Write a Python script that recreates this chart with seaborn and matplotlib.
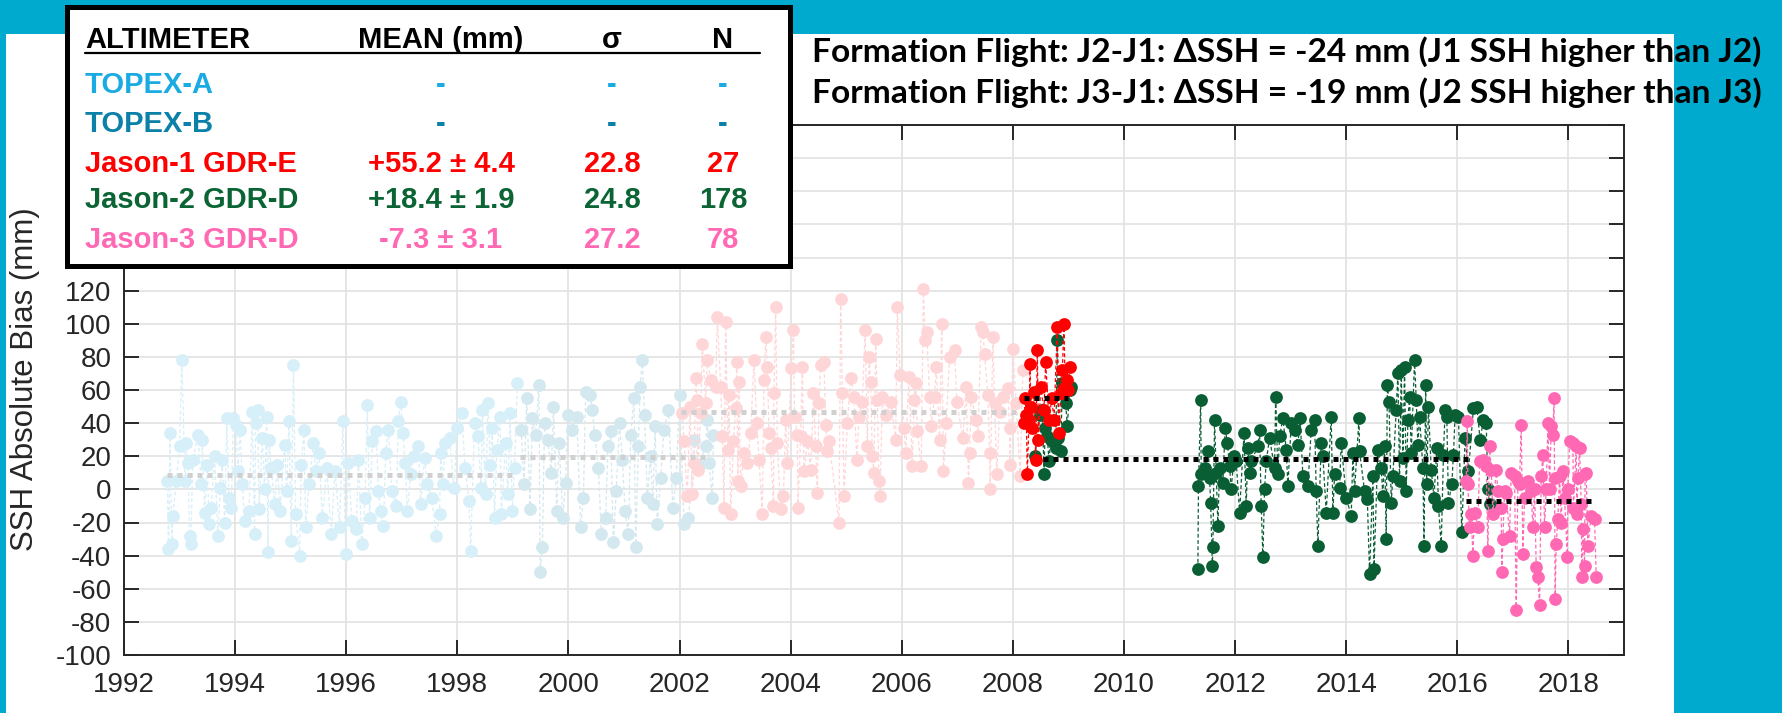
"""
SSH absolute bias from altimeter calibration: TOPEX, Jason-1/2/3 time series.
"""

import numpy as np
import matplotlib

matplotlib.use("Agg")
import matplotlib.pyplot as plt
import seaborn as sns
from matplotlib.patches import Rectangle
from matplotlib.lines import Line2D

sns.set_style("ticks")

# ── Data (decimal year, bias in mm) ─────────────────
topex_a_year = [1992.78, 1992.80, 1992.83, 1992.86, 1992.88, 1992.94, 1993.00, 1993.04, 1993.10, 1993.12,
                1993.15, 1993.18, 1993.20, 1993.24, 1993.33, 1993.39, 1993.41, 1993.45, 1993.50, 1993.53,
                1993.57, 1993.63, 1993.69, 1993.73, 1993.77, 1993.81, 1993.85, 1993.89, 1993.93, 1993.97,
                1994.01, 1994.05, 1994.09, 1994.13, 1994.17, 1994.25, 1994.31, 1994.35, 1994.37, 1994.41,
                1994.43, 1994.49, 1994.53, 1994.57, 1994.59, 1994.61, 1994.65, 1994.71, 1994.76, 1994.81,
                1994.89, 1994.93, 1994.97, 1995.01, 1995.05, 1995.09, 1995.16, 1995.19, 1995.24, 1995.27,
                1995.33, 1995.41, 1995.45, 1995.51, 1995.57, 1995.65, 1995.73, 1995.80, 1995.88, 1995.94,
                1995.99, 1996.04, 1996.10, 1996.18, 1996.22, 1996.28, 1996.34, 1996.38, 1996.42, 1996.47,
                1996.54, 1996.58, 1996.62, 1996.67, 1996.71, 1996.76, 1996.82, 1996.90, 1996.94, 1996.98,
                1997.02, 1997.06, 1997.10, 1997.16, 1997.22, 1997.30, 1997.34, 1997.41, 1997.46, 1997.54,
                1997.62, 1997.68, 1997.70, 1997.74, 1997.78, 1997.86, 1997.94, 1998.00, 1998.08, 1998.14,
                1998.21, 1998.24, 1998.31, 1998.37, 1998.43, 1998.45, 1998.51, 1998.55, 1998.59, 1998.63,
                1998.67, 1998.71, 1998.77, 1998.79, 1998.87, 1998.91, 1998.95, 1998.99, 1999.03, 1999.08]
topex_a_bias = [5, -36, 34, -33, -16, 5, 26, 78, 5, 28,
                16, -28, -33, 18, 33, 3, 30, -14, 15, -21,
                -11, 20, -28, 1, 18, -20, 43, -5, -11, 43,
                39, 11, 36, 3, -19, -13, 47, -27, 40, 48,
                -12, 31, 0, 44, -38, 30, 13, -9, 15, -13,
                27, -1, 41, -31, 75, -15, -40, 15, 36, -23,
                3, 28, 11, 22, -17, 13, -27, 11, -23, 41,
                -39, 16, -19, -24, 18, -33, -5, 51, -17, 29,
                35, -1, -13, -22, 22, 36, -1, -10, 41, 53,
                34, 16, -13, 9, 20, 26, -9, 19, 3, -5,
                -28, -15, 22, 3, 28, 31, 1, 37, 46, 13,
                -7, -37, 40, 32, 1, 48, -3, 52, 15, 37,
                -17, 24, 44, -15, 28, -3, 46, -13, 13, 64]

topex_b_year = [1999.15, 1999.20, 1999.25, 1999.31, 1999.35, 1999.41, 1999.47, 1999.49, 1999.53, 1999.57,
                1999.63, 1999.69, 1999.73, 1999.79, 1999.83, 1999.90, 1999.95, 1999.99, 2000.07, 2000.15,
                2000.22, 2000.27, 2000.31, 2000.39, 2000.43, 2000.47, 2000.54, 2000.59, 2000.67, 2000.71,
                2000.76, 2000.81, 2000.86, 2000.92, 2000.97, 2001.02, 2001.08, 2001.12, 2001.18, 2001.21,
                2001.26, 2001.29, 2001.33, 2001.37, 2001.42, 2001.48, 2001.52, 2001.56, 2001.60, 2001.66,
                2001.72, 2001.80, 2001.88, 2001.94, 2002.00, 2002.08, 2002.16, 2002.20, 2002.26, 2002.35,
                2002.47, 2002.50, 2002.53, 2002.59, 2002.61]
topex_b_bias = [36, 3, 55, -12, 43, 33, 63, -50, -35, 40,
                30, 10, 50, -13, 28, -17, 4, 45, 36, 44,
                -23, -5, 59, 57, 48, 33, 13, -27, -17, 26,
                35, -32, -1, 40, 18, -13, -27, 33, 55, -35,
                26, 62, 78, 45, -5, 20, -9, 38, -21, 7,
                36, 48, -11, 7, 57, -21, -17, -3, 30, 15,
                26, 42, 16, -5, 33]

jason1_old_year = [2002.05, 2002.08, 2002.14, 2002.19, 2002.23, 2002.26, 2002.29, 2002.32, 2002.33, 2002.38,
                   2002.41, 2002.47, 2002.50, 2002.56, 2002.65, 2002.68, 2002.74, 2002.77, 2002.80, 2002.83,
                   2002.87, 2002.89, 2002.92, 2002.97, 2003.01, 2003.03, 2003.05, 2003.07, 2003.10, 2003.16,
                   2003.22, 2003.28, 2003.34, 2003.39, 2003.43, 2003.49, 2003.52, 2003.55, 2003.58, 2003.61,
                   2003.64, 2003.69, 2003.70, 2003.73, 2003.76, 2003.82, 2003.87, 2003.91, 2003.94, 2004.01,
                   2004.05, 2004.07, 2004.12, 2004.13, 2004.18, 2004.21, 2004.24, 2004.30, 2004.36, 2004.41,
                   2004.45, 2004.48, 2004.51, 2004.54, 2004.60, 2004.63, 2004.66, 2004.69, 2004.87, 2004.90,
                   2004.93, 2004.96, 2005.02, 2005.08, 2005.14, 2005.19, 2005.23, 2005.29, 2005.34, 2005.38,
                   2005.41, 2005.44, 2005.47, 2005.50, 2005.53, 2005.56, 2005.59, 2005.61, 2005.65, 2005.71,
                   2005.80, 2005.89, 2005.92, 2005.97, 2006.04, 2006.07, 2006.13, 2006.19, 2006.22, 2006.25,
                   2006.28, 2006.35, 2006.39, 2006.42, 2006.45, 2006.50, 2006.53, 2006.59, 2006.62, 2006.68,
                   2006.72, 2006.75, 2006.80, 2006.86, 2006.95, 2006.99, 2007.10, 2007.16, 2007.20, 2007.22,
                   2007.25, 2007.34, 2007.37, 2007.43, 2007.46, 2007.49, 2007.55, 2007.58, 2007.59, 2007.64,
                   2007.67, 2007.71, 2007.76, 2007.82, 2007.91, 2007.94, 2007.95, 2008.00, 2008.06, 2008.13,
                   2008.18]
jason1_old_bias = [46, 29, -4, 50, -3, 16, 67, 54, 12, 46,
                   88, 52, 78, 66, 62, 104, 62, 32, -11, 101,
                   24, 57, -15, 29, 49, 77, 5, 65, 2, 22,
                   16, 34, 78, 40, 18, -15, 66, 92, 74, 34,
                   25, -10, 58, 110, 28, -12, -4, 42, 16, 73,
                   96, 44, 33, -11, 32, 74, 11, 29, 12, 58,
                   26, -2, 52, 75, 77, 39, 23, 29, -20, 115,
                   58, -4, 40, 67, 56, 18, 44, 53, 96, 26,
                   80, 65, 20, 10, 91, 54, 5, -4, 56, 45,
                   53, 30, 110, 69, 37, 22, 68, 14, 54, 64,
                   35, 14, 121, 90, 95, 56, 38, 56, 74, 30,
                   100, 11, 40, 80, 84, 53, 31, 62, 4, 22,
                   56, 42, 32, 98, 95, 82, 57, 22, 0, 92,
                   52, 9, 47, 56, 61, 37, 15, 85, 52, 8,
                   72]

jason1_year = [2008.20, 2008.22, 2008.24, 2008.26, 2008.29, 2008.31, 2008.32, 2008.35, 2008.38, 2008.41,
               2008.44, 2008.46, 2008.50, 2008.56, 2008.59, 2008.65, 2008.70, 2008.74, 2008.80, 2008.83,
               2008.86, 2008.89, 2008.92, 2008.94, 2008.98, 2009.00, 2009.02]
jason1_bias = [40, 55, 45, 9, 42, 76, 50, 37, 59, 18,
               84, 30, 62, 48, 77, 42, 55, 42, 98, 34,
               58, 72, 100, 62, 66, 60, 74]

jason2_ff_year = [2008.40, 2008.48, 2008.53, 2008.56, 2008.58, 2008.62, 2008.65, 2008.68, 2008.74, 2008.77,
                  2008.80, 2008.82, 2008.86, 2008.89, 2008.95, 2008.98, 2009.02, 2009.05]
jason2_ff_bias = [20, 45, 48, 9, 37, 32, 17, 30, 28, 25,
                  90, 31, 23, 64, 52, 38, 60, 62]

jason2_year = [2011.33, 2011.34, 2011.38, 2011.39, 2011.45, 2011.52, 2011.54, 2011.56, 2011.59, 2011.60,
               2011.63, 2011.66, 2011.69, 2011.72, 2011.78, 2011.82, 2011.86, 2011.90, 2011.93, 2011.98,
               2012.02, 2012.08, 2012.16, 2012.20, 2012.23, 2012.26, 2012.29, 2012.41, 2012.44, 2012.47,
               2012.50, 2012.53, 2012.56, 2012.62, 2012.71, 2012.73, 2012.77, 2012.80, 2012.86, 2012.92,
               2012.95, 2013.01, 2013.07, 2013.13, 2013.17, 2013.22, 2013.31, 2013.37, 2013.43, 2013.46,
               2013.49, 2013.55, 2013.58, 2013.64, 2013.73, 2013.76, 2013.79, 2013.88, 2013.91, 2014.00,
               2014.09, 2014.12, 2014.15, 2014.23, 2014.24, 2014.33, 2014.38, 2014.42, 2014.48, 2014.50,
               2014.57, 2014.63, 2014.66, 2014.69, 2014.72, 2014.74, 2014.77, 2014.81, 2014.84, 2014.90,
               2014.93, 2014.96, 2014.99, 2015.02, 2015.05, 2015.08, 2015.11, 2015.14, 2015.17, 2015.23,
               2015.26, 2015.29, 2015.32, 2015.38, 2015.40, 2015.43, 2015.45, 2015.48, 2015.53, 2015.58,
               2015.63, 2015.66, 2015.71, 2015.75, 2015.78, 2015.81, 2015.84, 2015.90, 2015.93, 2015.96,
               2016.02, 2016.08, 2016.14, 2016.20, 2016.29, 2016.35, 2016.41, 2016.47, 2016.52, 2016.55,
               2016.58]
jason2_bias = [-48, 2, 54, 9, 13, 23, 7, -8, -46, -35,
               42, 10, -22, 13, 4, 37, 28, 14, 0, 20,
               17, -14, 34, -10, 25, 10, 17, 26, 36, -10,
               -41, 0, 17, 31, 13, 56, 9, 32, 43, 24,
               2, 40, 36, 27, 43, 8, 2, 36, 42, -1,
               -34, 28, 20, -14, 44, -14, 9, 1, 28, -5,
               -16, 22, -1, 43, 23, -1, -6, -51, 8, -48,
               24, 13, -4, 26, -30, 63, 53, -8, 8, 48,
               70, 5, 72, 19, 74, -1, 42, 56, 22, 78,
               54, 27, 44, 13, -34, 63, 3, 50, 12, -5,
               25, -10, -34, 21, 48, 44, -8, 3, 21, 45,
               44, -26, 31, 11, 49, 50, 30, 42, 40, 0,
               -9]

jason3_year = [2016.16, 2016.18, 2016.19, 2016.22, 2016.25, 2016.28, 2016.31, 2016.37, 2016.40, 2016.46,
               2016.52, 2016.55, 2016.58, 2016.61, 2016.64, 2016.70, 2016.73, 2016.79, 2016.80, 2016.82,
               2016.85, 2016.88, 2016.94, 2016.97, 2017.03, 2017.06, 2017.09, 2017.12, 2017.15, 2017.18,
               2017.21, 2017.27, 2017.33, 2017.36, 2017.39, 2017.42, 2017.45, 2017.48, 2017.51, 2017.54,
               2017.57, 2017.60, 2017.63, 2017.66, 2017.69, 2017.72, 2017.74, 2017.75, 2017.76, 2017.78,
               2017.81, 2017.84, 2017.87, 2017.90, 2017.93, 2017.98, 2017.99, 2018.02, 2018.08, 2018.09,
               2018.14, 2018.15, 2018.17, 2018.20, 2018.23, 2018.24, 2018.26, 2018.29, 2018.30, 2018.32,
               2018.35, 2018.41, 2018.47, 2018.50]
jason3_bias = [5, 41, 3, -23, -15, -40, -14, -23, 17, 18,
               14, -37, 26, 12, -15, 12, -1, -11, -50, -30,
               -1, -2, -28, 10, 8, -73, 5, 3, 39, -39,
               -5, 5, -1, -23, 0, -47, -53, -70, 8, 21,
               -23, 0, 40, 0, 38, 33, 55, 7, -66, -33,
               -18, 8, -20, 11, -5, -41, 0, 29, 28, -11,
               26, -15, 7, 25, -9, -53, -24, -46, 9, 10,
               -34, -16, -18, -53]

# dotted mean lines: start year, end year, mean (mm)
mean_start = [1992.78, 1999.12, 2002.02, 2008.20, 2008.55, 2016.15]
mean_end = [1999.07, 2002.55, 2008.15, 2009.00, 2016.26, 2018.47]
mean_value = [8.5, 19.3, 46.6, 55.2, 18.4, -7.3]
mean_color = ["#D0D0D0", "#D0D0D0", "#D0D0D0", "black", "black", "black"]

# summary table
table_names = ["TOPEX-A", "TOPEX-B", "Jason-1 GDR-E", "Jason-2 GDR-D", "Jason-3 GDR-D"]
table_mean = ["-", "-", "+55.2 ± 4.4", "+18.4 ± 1.9", "-7.3 ± 3.1"]
table_sigma = ["-", "-", "22.8", "24.8", "27.2"]
table_n = ["-", "-", "27", "178", "78"]
table_colors = ["#1AABE2", "#0B80A8", "#FF0000", "#0A6433", "#FF69B4"]

title_lines = ["Formation Flight: J2-J1: ΔSSH = -24 mm (J1 SSH higher than J2)",
               "Formation Flight: J3-J1: ΔSSH = -19 mm (J2 SSH higher than J3)"]

# ── Figure ──────────────────────────────────────────
W, H = 1783, 713
TEAL = "#00A9CE"
fig = plt.figure(figsize=(W / 100, H / 100), dpi=100, facecolor=TEAL)


def fx(px):
    return px / W


def fy(py):
    return 1 - py / H


fig.add_artist(Rectangle((fx(6), 0), fx(1674) - fx(6), fy(34), transform=fig.transFigure,
                         facecolor="white", edgecolor="none", zorder=-10))

ax = fig.add_axes([fx(124), fy(655), fx(1624) - fx(124), fy(125) - fy(655)])
ax.set_facecolor("white")


def draw_series(x, y, color, zorder):
    sns.lineplot(x=x, y=y, ax=ax, estimator=None, sort=False, color=color,
                 linestyle=(0, (3, 2)), lw=0.9, marker="o", markersize=9.2,
                 markeredgewidth=0, markeredgecolor=color, zorder=zorder)


draw_series(topex_a_year, topex_a_bias, "#D7EFF8", 2)
draw_series(topex_b_year, topex_b_bias, "#D3E8EF", 2)
draw_series(jason1_old_year, jason1_old_bias, "#FFD6D8", 2)
draw_series(jason2_ff_year, jason2_ff_bias, "#0A5E34", 3)
draw_series(jason2_year, jason2_bias, "#0A5E34", 3)
draw_series(jason1_year, jason1_bias, "#FF0000", 4)
draw_series(jason3_year, jason3_bias, "#FF69B4", 5)

for x0, x1, m, c in zip(mean_start, mean_end, mean_value, mean_color):
    ax.plot([x0, x1], [m, m], color=c, lw=3.6, linestyle=(0, (1, 1)), zorder=6)

ax.set_xlim(1992, 2019)
ax.set_ylim(-100, 220)
ax.set_xticks(np.arange(1992, 2019, 2))
yt = np.arange(-100, 221, 20)
ax.set_yticks(yt)
# labels above 120 sit under the table box
ax.set_yticklabels([str(v) if v <= 120 else "" for v in yt])
ax.grid(True, color="#E2E2E2", lw=1.2)
ax.set_axisbelow(True)
for s in ax.spines.values():
    s.set_color("#262626")
    s.set_linewidth(1.4)
ax.tick_params(direction="in", length=10.5, width=1.4, top=True, right=True,
               labelsize=20, colors="#262626")
ax.tick_params(axis="x", pad=12)
ax.tick_params(axis="y", pad=9)
for lab in ax.get_xticklabels() + ax.get_yticklabels():
    lab.set_family("Liberation Sans")
ax.set_xlabel("")
ax.set_ylabel("SSH Absolute Bias (mm)", fontsize=22.5, family="Liberation Sans", color="#262626")
ax.yaxis.set_label_coords(-0.056, 0.52)

# ── Summary table box ───────────────────────────────
box_font, box_size = "Liberation Sans", 21

fig.add_artist(Rectangle((fx(67), fy(266)), fx(790) - fx(67), fy(7) - fy(266),
                         transform=fig.transFigure, facecolor="white", edgecolor="black",
                         lw=3.6, zorder=10))

col_x = [85, 441, 612, 723]
header = ["ALTIMETER", "MEAN (mm)", "σ", "N"]
row_y = [93, 132, 172, 208, 248]
for i, h in enumerate(header):
    fig.text(fx(col_x[i]), fy(48), h, ha="left" if i == 0 else "center", va="baseline",
             fontsize=box_size, fontweight="bold", family=box_font, color="black", zorder=11)
fig.add_artist(Line2D([fx(85), fx(760)], [fy(53), fy(53)], transform=fig.transFigure,
                      color="black", lw=1.6, zorder=11))
for r in range(len(table_names)):
    vals = [table_names[r], table_mean[r], table_sigma[r], table_n[r]]
    for i, v in enumerate(vals):
        fig.text(fx(col_x[i]), fy(row_y[r]), v, ha="left" if i == 0 else "center", va="baseline",
                 fontsize=box_size, fontweight="bold", family=box_font,
                 color=table_colors[r], zorder=11)

# ── Formation flight notes ──────────────────────────
notes = []
for k, line in enumerate(title_lines):
    notes.append(fig.text(fx(812), fy([62, 103][k]), line, ha="left", va="baseline",
                          fontsize=22, fontweight="bold", family=["Lato", "DejaVu Sans"],
                          color="black", zorder=11))
fig.canvas.draw()
w = notes[0].get_window_extent().width
for t in notes:
    t.set_fontsize(22 * 948 / w)

fig.savefig("out.png", dpi=100, facecolor=TEAL)
